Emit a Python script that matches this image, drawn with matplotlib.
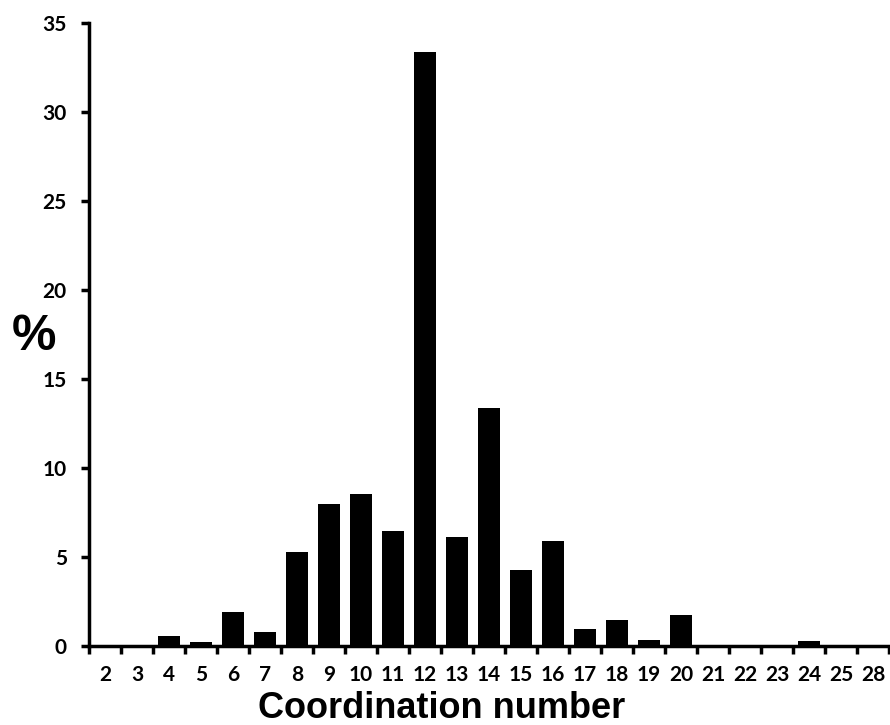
import matplotlib
matplotlib.use("Agg")
import matplotlib.pyplot as plt
import numpy as np

# coordination number distribution
categories = ["2", "3", "4", "5", "6", "7", "8", "9", "10", "11", "12", "13", "14",
              "15", "16", "17", "18", "19", "20", "21", "22", "23", "24", "25", "28"]
percent = [0, 0, 0.55, 0.2, 1.9, 0.8, 5.28, 7.98, 8.54, 6.46, 33.4, 6.12, 13.4,
           4.25, 5.9, 0.96, 1.46, 0.34, 1.72, 0, 0, 0, 0.3, 0, 0]
y_ticks = [0, 5, 10, 15, 20, 25, 30, 35]

tick_font = ["Lato", "DejaVu Sans"]
label_font = ["Liberation Sans", "DejaVu Sans"]

fig = plt.figure(figsize=(8.9, 7.25), dpi=100)
ax = fig.add_axes([0.1, 0.109, 0.899, 0.859])

x = np.arange(len(categories))
ax.bar(x, percent, width=0.68, color="black")

ax.set_xlim(-0.5, len(categories) - 0.5)
ax.set_ylim(0, 35)

# major ticks on category boundaries, labels at centres
ax.set_xticks(np.arange(-0.5, len(categories), 1.0))
ax.set_xticklabels([])
ax.set_xticks(x, minor=True)
ax.set_xticklabels(categories, minor=True, fontfamily=tick_font,
                   fontweight="bold", fontsize=15)
ax.tick_params(axis="x", which="major", direction="out", length=6, width=2.5)
ax.tick_params(axis="x", which="minor", length=0, pad=14)

ax.set_yticks(y_ticks)
ax.set_yticklabels([str(v) for v in y_ticks], fontfamily=tick_font,
                   fontweight="bold", fontsize=15)
ax.tick_params(axis="y", direction="out", length=6, width=2.5, pad=10)

for s in ["top", "right"]:
    ax.spines[s].set_visible(False)
for s in ["left", "bottom"]:
    ax.spines[s].set_linewidth(2.5)

fig.text(0.038, 0.535, "%", fontfamily=label_font, fontweight="bold",
         fontsize=36, ha="center", va="center")
fig.text(0.496, 0.01, "Coordination number", fontfamily=label_font,
         fontweight="bold", fontsize=26, ha="center", va="baseline")

fig.savefig("out.png", dpi=100)
